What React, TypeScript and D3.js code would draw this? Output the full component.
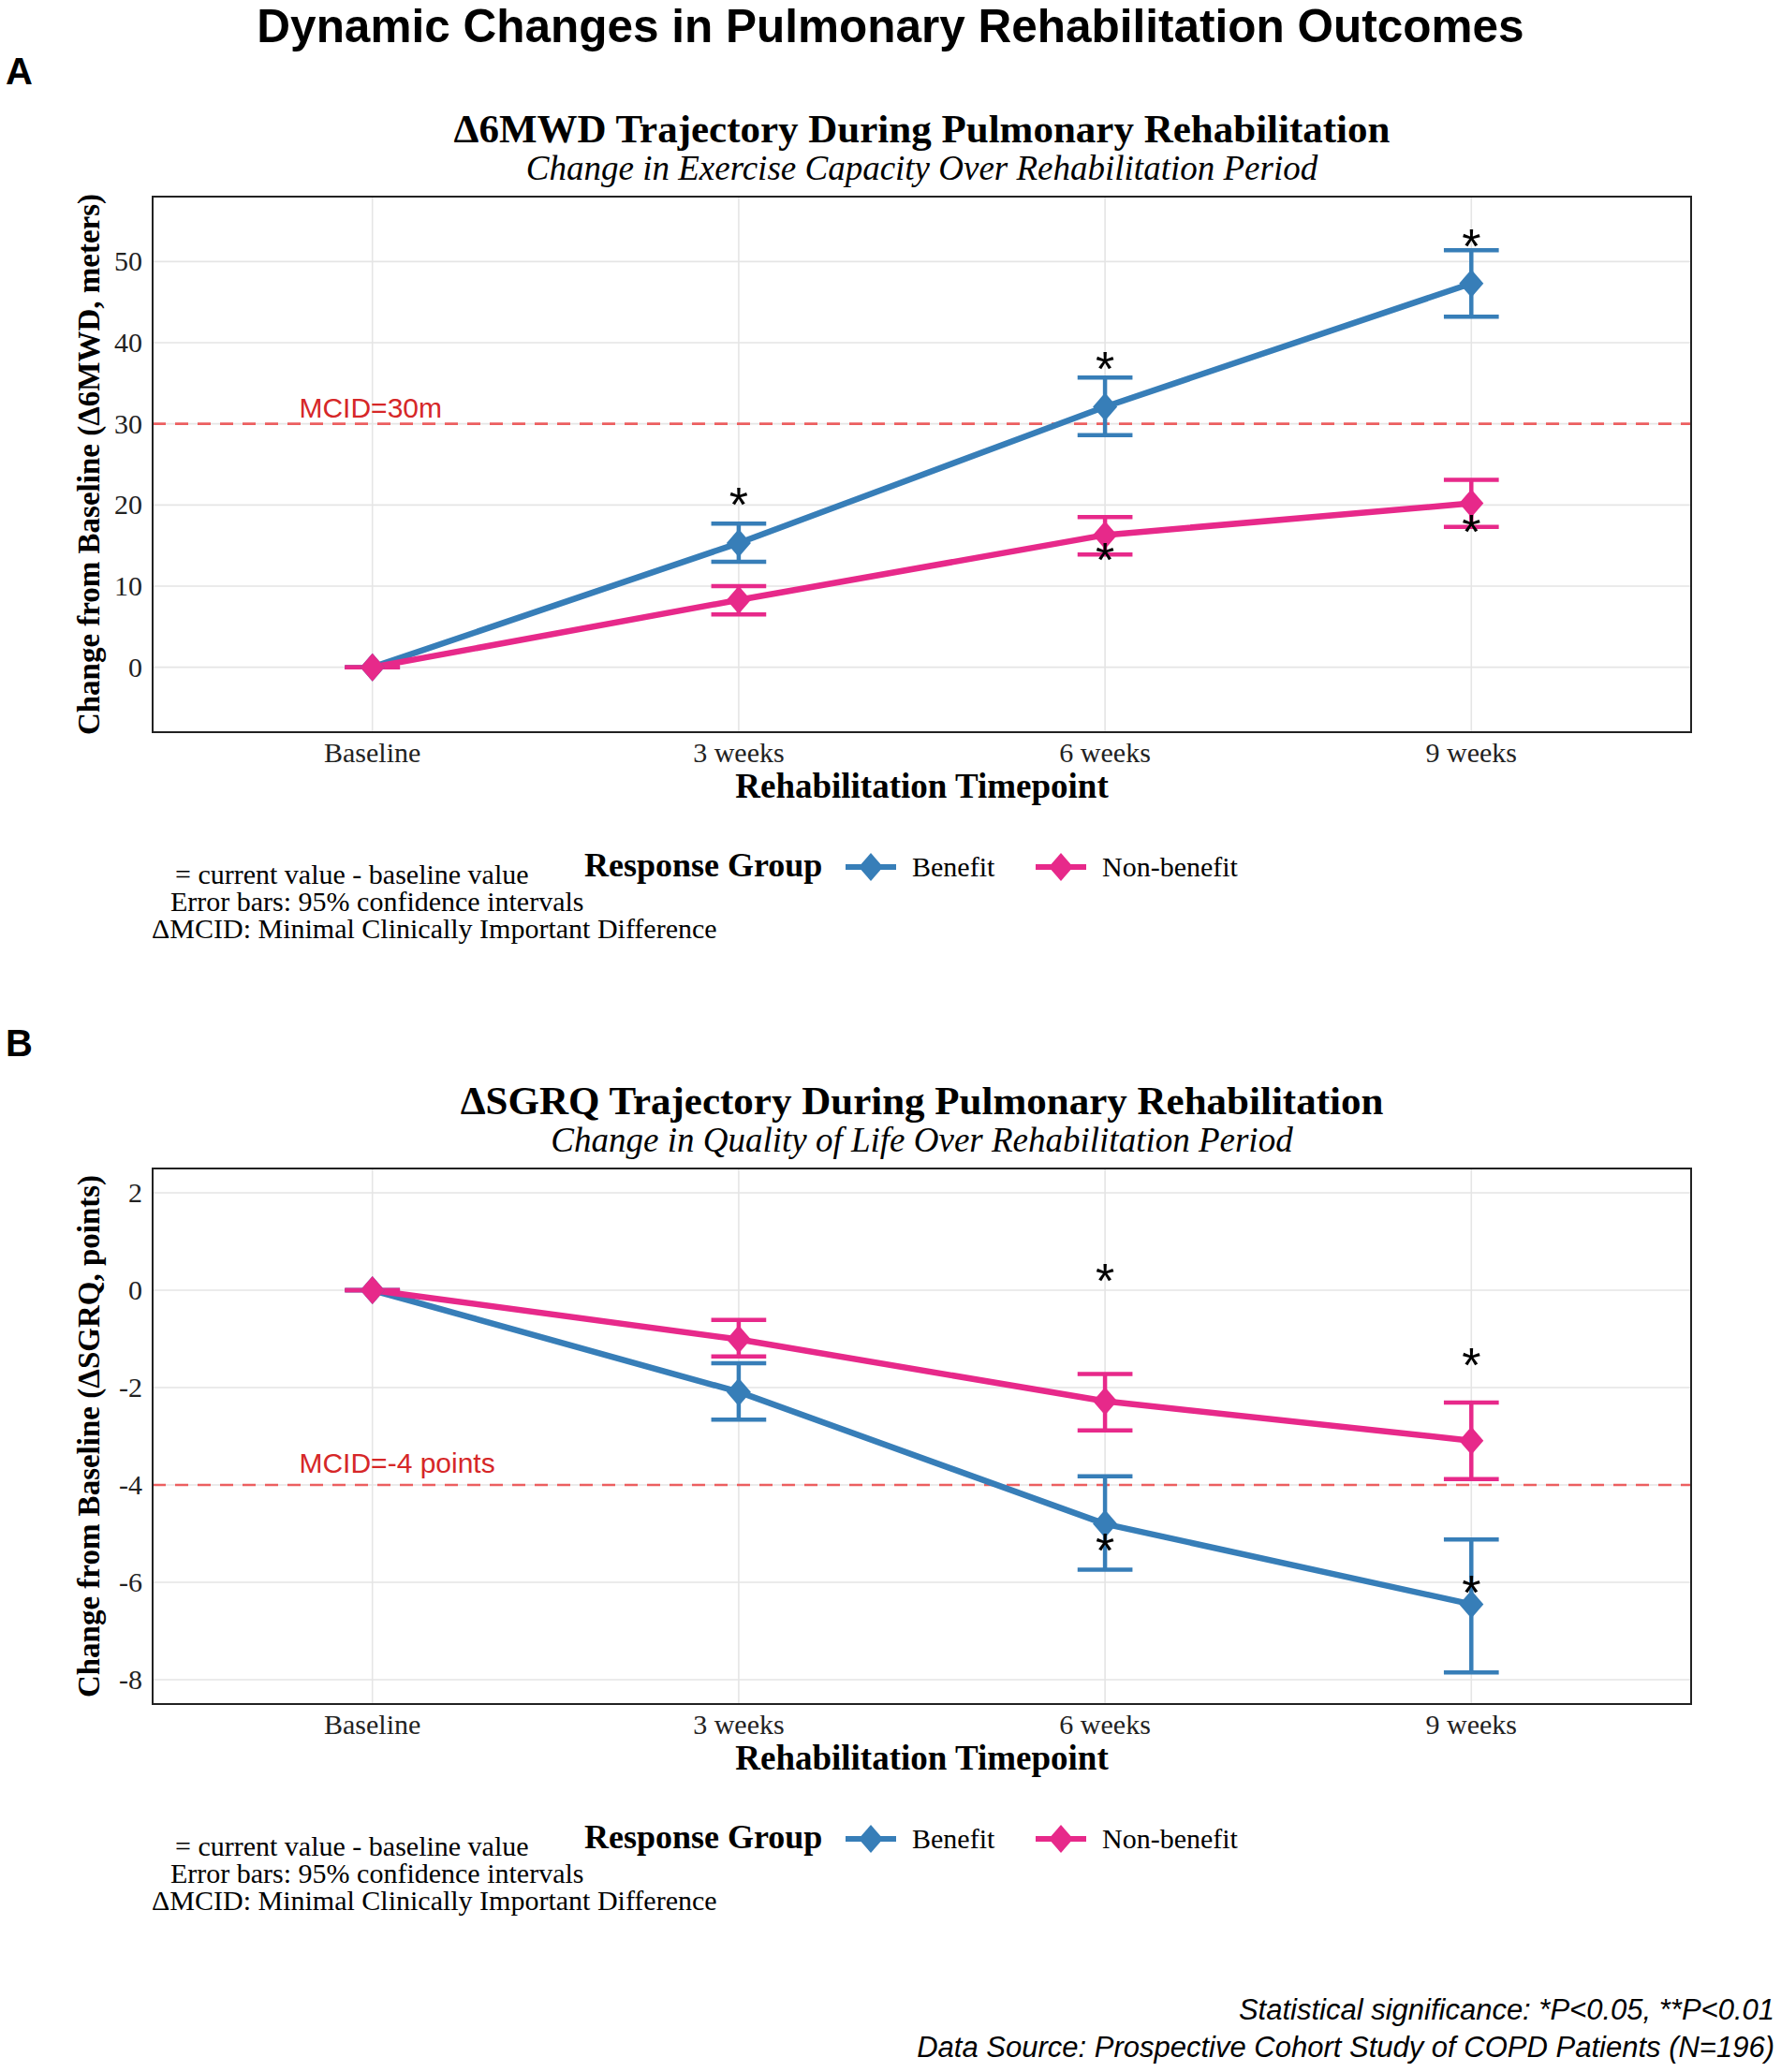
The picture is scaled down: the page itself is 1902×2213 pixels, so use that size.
import * as d3 from "d3";

// categories and groups
const timepoints = ["Baseline", "3 weeks", "6 weeks", "9 weeks"];
const groupNames = ["Benefit", "Non-benefit"];
const groupColors = ["#377EB8", "#E7298A"];

// panel A: change in 6MWD (meters)
const mwdBenefitMean = [0, 15.3, 32.1, 47.3];
const mwdBenefitLow = [0, 13.0, 28.6, 43.2];
const mwdBenefitHigh = [0, 17.7, 35.7, 51.4];
const mwdNonMean = [0, 8.3, 16.3, 20.2];
const mwdNonLow = [0, 6.5, 13.9, 17.3];
const mwdNonHigh = [0, 10.0, 18.5, 23.1];
const mwdTicks = [0, 10, 20, 30, 40, 50];
// significance marks: [timepoint index, y value]
const mwdStars = [[1, 21.4], [2, 38.1], [3, 53.3], [2, 14.6], [3, 18.1]];

// panel B: change in SGRQ (points)
const sgrqBenefitMean = [0, -2.09, -4.8, -6.45];
const sgrqBenefitLow = [0, -2.66, -5.74, -7.85];
const sgrqBenefitHigh = [0, -1.5, -3.82, -5.12];
const sgrqNonMean = [0, -1.01, -2.28, -3.09];
const sgrqNonLow = [0, -1.36, -2.88, -3.88];
const sgrqNonHigh = [0, -0.61, -1.72, -2.31];
const sgrqTicks = [-8, -6, -4, -2, 0, 2];
const sgrqStars = [[2, 0.42], [3, -1.31], [2, -5.12], [3, -5.99]];

const notes = [
  "= current value - baseline value",
  "Error bars: 95% confidence intervals",
  "\u0394MCID: Minimal Clinically Important Difference",
];

const SERIF = "'Liberation Serif', 'Times New Roman', serif";
const SANS = "'Liberation Sans', Arial, sans-serif";

const PL = 163;
const PR = 1806;
const PH = 572;

function Diamond({ cx, cy, color }: { cx: number; cy: number; color: string }) {
  const pts = [
    [cx, cy - 15],
    [cx + 13, cy],
    [cx, cy + 15],
    [cx - 13, cy],
  ];
  return <polygon points={pts.map((p) => p.join(",")).join(" ")} fill={color} />;
}

function Panel(props: {
  top: number;
  letter: string;
  title: string;
  subtitle: string;
  ylabel: string;
  domain: [number, number];
  ticks: number[];
  means: number[][];
  lows: number[][];
  highs: number[][];
  stars: number[][];
  mcid: number;
  mcidLabel: string;
  mcidDy: number;
}) {
  const { top } = props;
  const x = d3.scalePoint<string>().domain(timepoints).range([PL, PR]).padding(0.6);
  const y = d3.scaleLinear().domain(props.domain).range([top + PH, top]);
  const capHalf = x.step() * 0.075;
  const line = d3
    .line<number>()
    .x((_, i) => x(timepoints[i]) as number)
    .y((d) => y(d));
  const midY = top + PH / 2;
  const legY = top + 726;

  return (
    <g>
      <text x={6} y={top - 120} fontFamily={SANS} fontWeight="bold" fontSize={40}>
        {props.letter}
      </text>
      <text x={(PL + PR) / 2} y={top - 58} textAnchor="middle" fontFamily={SERIF} fontWeight="bold" fontSize={43}>
        {props.title}
      </text>
      <text x={(PL + PR) / 2} y={top - 18} textAnchor="middle" fontFamily={SERIF} fontStyle="italic" fontSize={37}>
        {props.subtitle}
      </text>

      {/* grid */}
      {props.ticks.map((t) => (
        <line key={"h" + t} x1={PL} x2={PR} y1={y(t)} y2={y(t)} stroke="#E5E5E5" strokeWidth={1.6} />
      ))}
      {timepoints.map((tp) => (
        <line key={"v" + tp} x1={x(tp)} x2={x(tp)} y1={top} y2={top + PH} stroke="#E5E5E5" strokeWidth={1.6} />
      ))}

      {/* MCID reference */}
      <line x1={PL} x2={PR} y1={y(props.mcid)} y2={y(props.mcid)} stroke="#EC5F60" strokeWidth={2.6} strokeDasharray="14 10" />
      <text x={PL + (0.8 - 0.4) * x.step()} y={y(props.mcid) + props.mcidDy} fontFamily={SANS} fontSize={30} fill="#D62728">
        {props.mcidLabel}
      </text>

      {/* error bars */}
      {props.means.map((_, g) =>
        timepoints.map((tp, i) => {
          const cx = x(tp) as number;
          const lo = y(props.lows[g][i]);
          const hi = y(props.highs[g][i]);
          return (
            <g key={"e" + g + i} stroke={groupColors[g]} strokeWidth={4.5}>
              <line x1={cx} x2={cx} y1={lo} y2={hi} />
              <line x1={cx - capHalf} x2={cx + capHalf} y1={lo} y2={lo} />
              <line x1={cx - capHalf} x2={cx + capHalf} y1={hi} y2={hi} />
            </g>
          );
        })
      )}

      {/* lines */}
      {props.means.map((m, g) => (
        <path key={"l" + g} d={line(m) || ""} fill="none" stroke={groupColors[g]} strokeWidth={6.5} strokeLinejoin="round" />
      ))}

      {/* points */}
      {props.means.map((m, g) =>
        m.map((v, i) => <Diamond key={"p" + g + i} cx={x(timepoints[i]) as number} cy={y(v)} color={groupColors[g]} />)
      )}

      {/* significance marks */}
      {props.stars.map(([i, v], k) => (
        <text key={"s" + k} x={x(timepoints[i])} y={y(v) + 30} textAnchor="middle" fontFamily={SANS} fontSize={52}>
          *
        </text>
      ))}

      {/* panel border */}
      <rect x={PL} y={top} width={PR - PL} height={PH} fill="none" stroke="#222" strokeWidth={2} />

      {/* y axis */}
      {props.ticks.map((t) => (
        <text key={"yt" + t} x={152} y={y(t) + 10} textAnchor="end" fontFamily={SERIF} fontSize={30} fill="#222">
          {t}
        </text>
      ))}
      <text
        transform={`translate(106,${midY}) rotate(-90)`}
        textAnchor="middle"
        fontFamily={SERIF}
        fontWeight="bold"
        fontSize={33}
      >
        {props.ylabel}
      </text>

      {/* x axis */}
      {timepoints.map((tp) => (
        <text key={"xt" + tp} x={x(tp)} y={top + 604} textAnchor="middle" fontFamily={SERIF} fontSize={30} fill="#222">
          {tp}
        </text>
      ))}
      <text x={(PL + PR) / 2} y={top + 642} textAnchor="middle" fontFamily={SERIF} fontWeight="bold" fontSize={37}>
        Rehabilitation Timepoint
      </text>

      {/* legend */}
      <text x={624} y={legY} fontFamily={SERIF} fontWeight="bold" fontSize={36}>
        Response Group
      </text>
      {groupNames.map((name, g) => {
        const kx = g === 0 ? 903 : 1106;
        return (
          <g key={"lg" + g}>
            <line x1={kx} x2={kx + 54} y1={legY - 10} y2={legY - 10} stroke={groupColors[g]} strokeWidth={6} />
            <Diamond cx={kx + 27} cy={legY - 10} color={groupColors[g]} />
            <text x={kx + 71} y={legY} fontFamily={SERIF} fontSize={30}>
              {name}
            </text>
          </g>
        );
      })}

      {/* notes */}
      {notes.map((n, k) => (
        <text key={"n" + k} x={[187, 182, 162][k]} y={top + 734 + k * 29} fontFamily={SERIF} fontSize={30}>
          {n}
        </text>
      ))}
    </g>
  );
}

export default function App() {
  return (
    <svg
      width={1902}
      height={2213}
      style={{ position: "absolute", left: 0, top: 0, background: "#fff" }}
    >
      <rect width={1902} height={2213} fill="#fff" />
      <text x={951} y={45} textAnchor="middle" fontFamily={SANS} fontWeight="bold" fontSize={49.5}>
        Dynamic Changes in Pulmonary Rehabilitation Outcomes
      </text>
      <Panel
        top={210}
        letter="A"
        title={"\u03946MWD Trajectory During Pulmonary Rehabilitation"}
        subtitle="Change in Exercise Capacity Over Rehabilitation Period"
        ylabel={"Change from Baseline (\u03946MWD, meters)"}
        domain={[-8, 58]}
        ticks={mwdTicks}
        means={[mwdBenefitMean, mwdNonMean]}
        lows={[mwdBenefitLow, mwdNonLow]}
        highs={[mwdBenefitHigh, mwdNonHigh]}
        stars={mwdStars}
        mcid={30}
        mcidLabel="MCID=30m"
        mcidDy={-7}
      />
      <Panel
        top={1248}
        letter="B"
        title={"\u0394SGRQ Trajectory During Pulmonary Rehabilitation"}
        subtitle="Change in Quality of Life Over Rehabilitation Period"
        ylabel={"Change from Baseline (\u0394SGRQ, points)"}
        domain={[-8.5, 2.5]}
        ticks={sgrqTicks}
        means={[sgrqBenefitMean, sgrqNonMean]}
        lows={[sgrqBenefitLow, sgrqNonLow]}
        highs={[sgrqBenefitHigh, sgrqNonHigh]}
        stars={sgrqStars}
        mcid={-4}
        mcidLabel="MCID=-4 points"
        mcidDy={-13}
      />
      <text x={1895} y={2157} textAnchor="end" fontFamily={SANS} fontStyle="italic" fontSize={31}>
        Statistical significance: *P&lt;0.05, **P&lt;0.01
      </text>
      <text x={1895} y={2197} textAnchor="end" fontFamily={SANS} fontStyle="italic" fontSize={31}>
        Data Source: Prospective Cohort Study of COPD Patients (N=196)
      </text>
    </svg>
  );
}
